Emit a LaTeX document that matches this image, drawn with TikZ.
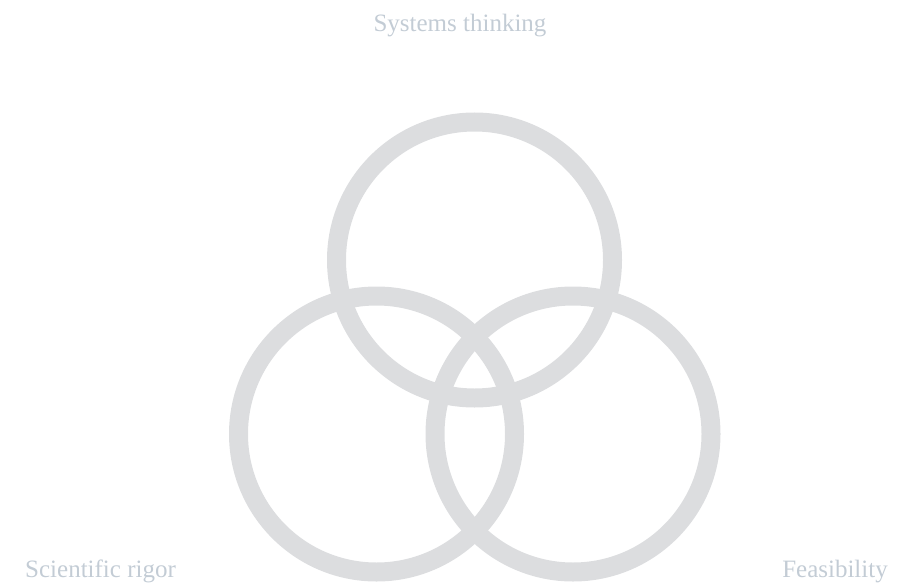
\documentclass[tikz,border=0pt]{standalone}
\usepackage{fontspec}
\setmainfont{Liberation Serif}
\usetikzlibrary{positioning}

\definecolor{ringgray}{HTML}{DCDDDF}
\definecolor{labelgray}{HTML}{C3CCD5}

\begin{document}
\begin{tikzpicture}[x=1pt, y=-1pt,
    ring/.style={circle, draw=ringgray, line width=19pt, minimum size=276pt, inner sep=0pt},
    lbl/.style={text=labelgray, font=\fontsize{25}{30}\selectfont, inner sep=0pt}]
        \useasboundingbox (0,0) rectangle (910,586);
        \node [ring] (systems) at (474.5,260) {};
        \node [ring] (science) at (376.5,434) {};
        \node [ring] (feasible) at (573,434) {};
        \node [lbl, anchor=base] (systxt) at (460,32) {Systems thinking};
        \node [lbl, anchor=base west] (scitxt) at (25,577) {Scientific rigor};
        \node [lbl, anchor=base east] (featxt) at (888,577) {Feasibility};
      \end{tikzpicture}
\end{document}
